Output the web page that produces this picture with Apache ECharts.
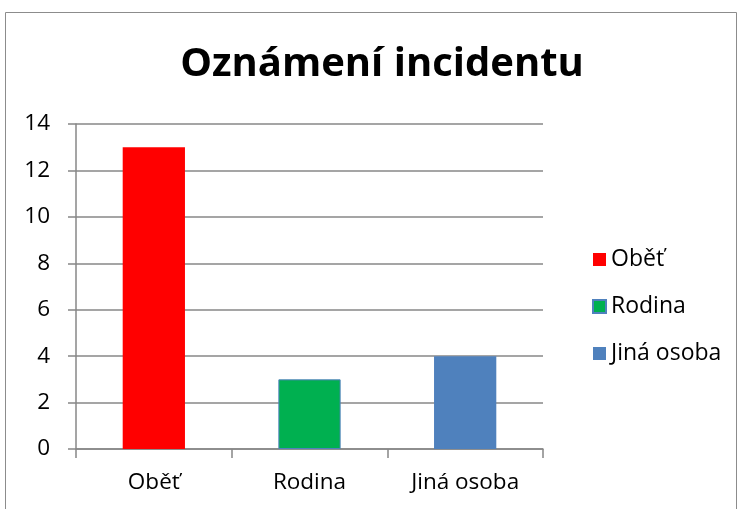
<!DOCTYPE html>
<html>
<head>
<meta charset="utf-8">
<script src="https://cdn.jsdelivr.net/npm/echarts@6/dist/echarts.min.js"></script>
<style>
  html, body { margin: 0; padding: 0; background: #fff; }
  #chart_wrap { width: 739px; height: 509px; }
</style>
</head>
<body>
<div id="chart_wrap"></div>
<script>
// data
var categories = ['Oběť', 'Rodina', 'Jiná osoba'];
var values = [13, 3, 4];
var colors = ['#FF0000', '#00B050', '#4F81BD'];
var yTicks = { min: 0, max: 14, interval: 2 };

var chart = echarts.init(document.getElementById('chart_wrap'));
var font = 'Open Sans, Noto Sans, sans-serif';

// one series per category, so the legend lists each one
var series = categories.map(function (name, i) {
    var d = categories.map(function (c, j) { return j === i ? values[i] : '-'; });
    return {
        name: name,
        type: 'bar',
        stack: 'all',
        barWidth: '40%',
        data: d,
        itemStyle: {
            color: colors[i],
            borderColor: i === 1 ? '#4F81BD' : colors[i],
            borderWidth: i === 1 ? 1 : 0
        }
    };
});

var option = {
    backgroundColor: '#fff',
    animation: false,
    title: {
        text: 'Oznámení incidentu',
        left: 377,
        textAlign: 'center',
        top: 40,
        textStyle: { fontFamily: font, fontSize: 40, fontWeight: 'bold', color: '#000' }
    },
    graphic: [{
        type: 'rect',
        shape: { x: 5.5, y: 12.5, width: 731, height: 520 },
        style: { fill: 'none', stroke: '#8c8c8c', lineWidth: 1 }
    }],
    legend: {
        orient: 'vertical',
        left: 587,
        top: 243,
        itemWidth: 13,
        itemHeight: 13,
        itemGap: 24,
        icon: 'rect',
        data: categories,
        textStyle: { fontFamily: font, fontSize: 23, color: '#000' }
    },
    grid: { left: 76, top: 124, width: 467, height: 325, containLabel: false },
    xAxis: {
        type: 'category',
        data: categories,
        axisLine: { lineStyle: { color: '#878787', width: 1.5 } },
        axisTick: { show: true, length: 9, inside: false, lineStyle: { color: '#878787', width: 1.5 } },
        axisLabel: { fontFamily: font, fontSize: 22.5, color: '#000', margin: 22 }
    },
    yAxis: {
        type: 'value',
        min: yTicks.min,
        max: yTicks.max,
        interval: yTicks.interval,
        axisLine: { show: true, lineStyle: { color: '#878787', width: 1.5 } },
        axisTick: { show: true, length: 8, lineStyle: { color: '#878787', width: 1.5 } },
        axisLabel: { fontFamily: font, fontSize: 22.5, color: '#000', margin: 26 },
        splitLine: { lineStyle: { color: '#878787', width: 1.5 } }
    },
    series: series
};

chart.setOption(option);
</script>
</body>
</html>
